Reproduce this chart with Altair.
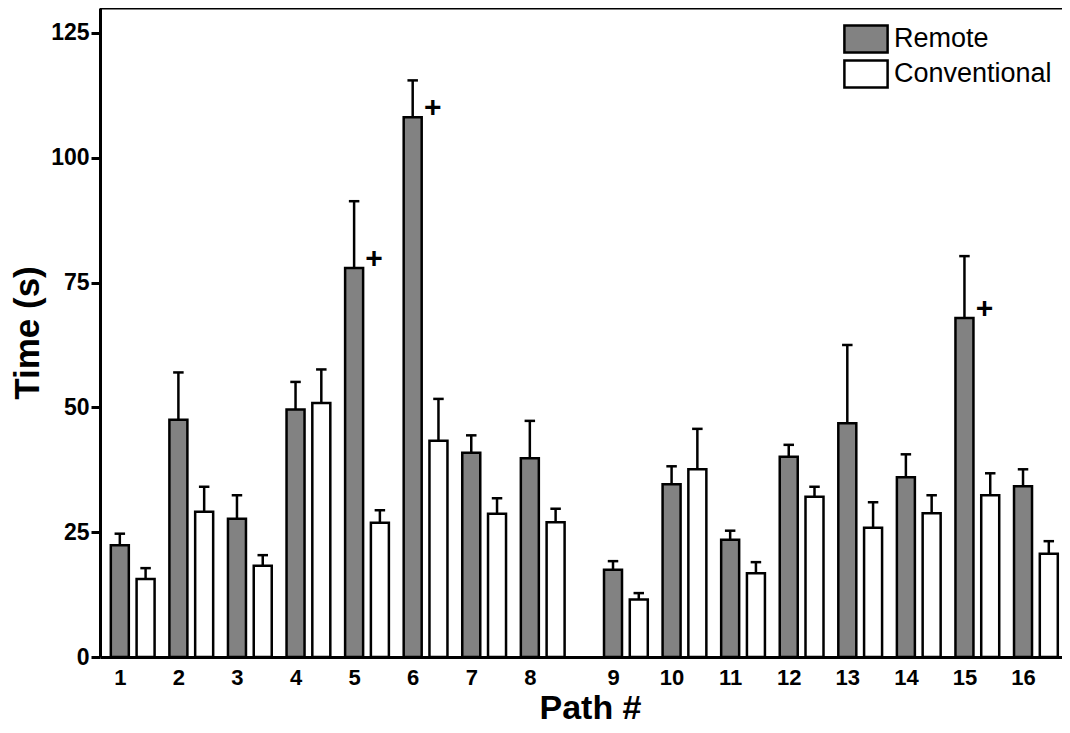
import altair as alt
import pandas as pd

# ---- data ----
paths = ["1", "2", "3", "4", "5", "6", "7", "8", "9", "10", "11", "12", "13", "14", "15", "16"]
methods = ["Remote", "Conventional"]
remote = [22.4, 47.5, 27.7, 49.6, 77.9, 108.1, 40.9, 39.8, 17.5, 34.6, 23.5, 40.1, 46.8, 36.0, 67.9, 34.2]
remote_err = [2.3, 9.5, 4.7, 5.5, 13.4, 7.4, 3.5, 7.5, 1.7, 3.6, 1.8, 2.4, 15.7, 4.6, 12.4, 3.4]
conventional = [15.6, 29.1, 18.3, 50.9, 26.9, 43.3, 28.7, 27.0, 11.5, 37.6, 16.8, 32.1, 25.9, 28.8, 32.4, 20.7]
conventional_err = [2.2, 5.0, 2.1, 6.7, 2.5, 8.4, 3.1, 2.7, 1.3, 8.1, 2.2, 2.0, 5.1, 3.6, 4.4, 2.5]
sig_paths = ["5", "6", "15"]
y_ticks = [0, 25, 50, 75, 100, 125]

# ---- layout constants (group slots on a linear scale) ----
GAP_AFTER = 8      # extra space after path 8
GAP = 0.42         # size of that extra space, in group steps
PAIR_SHIFT = 0.44  # distance between the two bars of a group, in group steps


def slot(i):
    return i + (GAP if i >= GAP_AFTER else 0.0)


rows = []
for i, (p, v, e) in enumerate(zip(paths, remote, remote_err)):
    rows.append({"path": p, "method": "Remote", "pos": slot(i), "value": v, "upper": v + e})
for i, (p, v, e) in enumerate(zip(paths, conventional, conventional_err)):
    rows.append({"path": p, "method": "Conventional", "pos": slot(i) + PAIR_SHIFT, "value": v, "upper": v + e})
df = pd.DataFrame(rows)

sig = pd.DataFrame({
    "path": sig_paths,
    "pos": [slot(paths.index(p)) for p in sig_paths],
    "value": [remote[paths.index(p)] for p in sig_paths],
    "mark": ["+"] * len(sig_paths),
})

W, H = 962, 649
FONT = "Liberation Sans"

label_expr = f"'' + (datum.value < {GAP_AFTER - 0.5} ? round(datum.value) + 1 : round(datum.value - {GAP}) + 1)"

x_scale = alt.Scale(domain=[-0.253, 16.0], nice=False, zero=False)
x_axis = alt.Axis(
    title="Path #", values=[slot(i) for i in range(len(paths))], labelExpr=label_expr,
    ticks=False, grid=False, labelAngle=0, labelPadding=10, labelFlush=False, labelOverlap=False,
    labelFontSize=22, labelFontWeight="bold", labelColor="black", labelFont=FONT,
    titleFontSize=34, titleFontWeight="bold", titleColor="black", titleFont=FONT, titlePadding=3,
    titleX=490, domainWidth=3, domainColor="black",
)
y_scale = alt.Scale(domain=[0, 130], nice=False, zero=True)
y_axis = alt.Axis(
    title="Time (s)", values=y_ticks, grid=False, tickSize=9, tickWidth=3, tickColor="black",
    domainWidth=3, domainColor="black", labelFontSize=23, labelFontWeight="bold",
    labelColor="black", labelPadding=2, labelFont=FONT, titleFont=FONT,
    titleFontSize=35, titleFontWeight="bold", titleColor="black",
    titleX=-73, titleY=H / 2, titleAngle=-90, titleBaseline="middle", titleAlign="center",
)

bars = alt.Chart(df).mark_bar(stroke="black", strokeWidth=2.5, opacity=1, width=18).encode(
    x=alt.X("pos:Q", scale=x_scale, axis=x_axis),
    y=alt.Y("value:Q", scale=y_scale, axis=y_axis),
    fill=alt.Fill(
        "method:N",
        sort=methods,
        scale=alt.Scale(domain=methods, range=["#828282", "#ffffff"]),
        legend=alt.Legend(
            title=None, orient="none", legendX=751, legendY=16,
            symbolType="M-1.6,-1H1.6V1H-1.6Z", symbolSize=729,
            symbolStrokeColor="black", symbolStrokeWidth=2.5, symbolOpacity=1,
            labelFontSize=27, labelFont=FONT, labelColor="black", labelOffset=13,
            rowPadding=-3, padding=0,
        ),
    ),
)

stems = alt.Chart(df).mark_rule(color="black", strokeWidth=2.5).encode(
    x=alt.X("pos:Q", scale=x_scale), y=alt.Y("value:Q", scale=y_scale), y2="upper:Q"
)
caps = alt.Chart(df).mark_point(
    shape="M-1,0L1,0", size=110, stroke="black", strokeWidth=2.5, filled=False, opacity=1
).encode(x=alt.X("pos:Q", scale=x_scale), y=alt.Y("upper:Q", scale=y_scale))

plus = alt.Chart(sig).mark_text(
    fontSize=30, fontWeight="bold", font=FONT, color="black", dx=20, dy=-9, baseline="middle"
).encode(x=alt.X("pos:Q", scale=x_scale), y=alt.Y("value:Q", scale=y_scale), text="mark:N")

top_border = alt.Chart(pd.DataFrame({"a": [0]})).mark_rule(color="black", strokeWidth=3).encode(
    x=alt.value(0), x2=alt.value(W), y=alt.value(0)
)

chart = alt.layer(bars, stems, caps, plus, top_border).properties(
    width=W, height=H,
    autosize=alt.AutoSizeParams(type="none"),
    padding={"left": 92, "top": 0, "right": 0, "bottom": 72},
).configure(background="white").configure_view(stroke=None).configure_axis(grid=False)

chart.save("out.html", embed_options={"renderer": "svg", "actions": False})
